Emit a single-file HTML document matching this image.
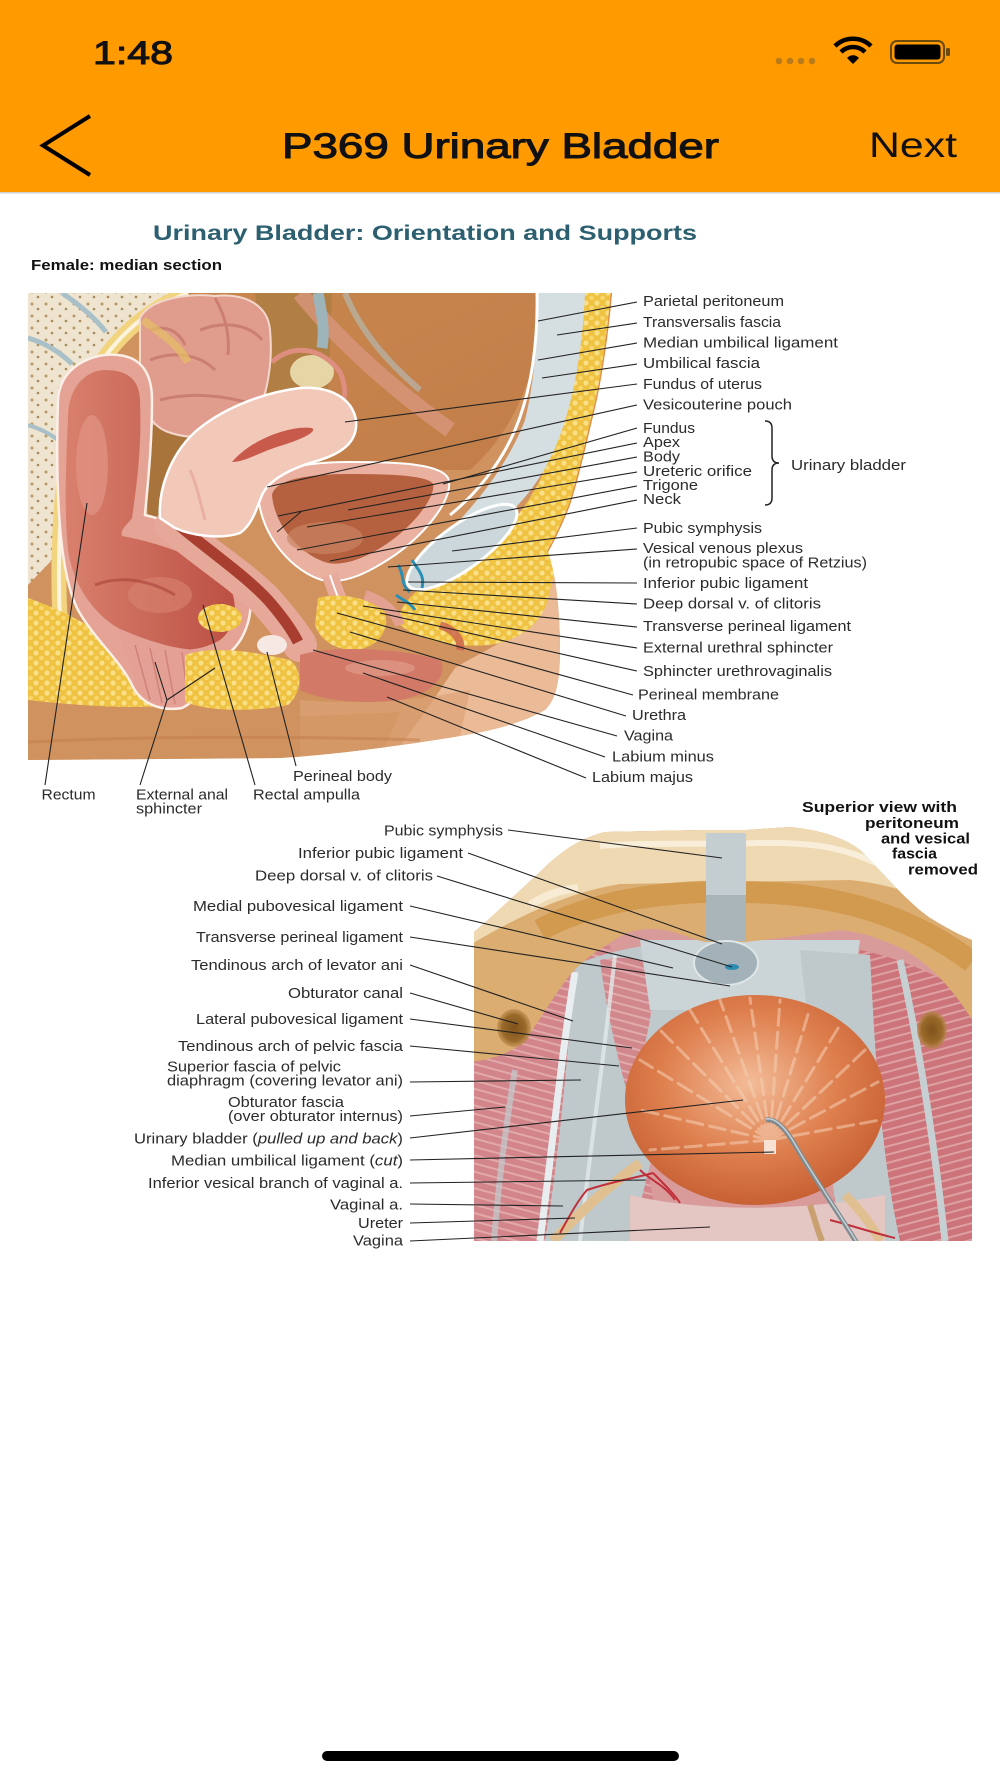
<!DOCTYPE html>
<html><head><meta charset="utf-8"><style>
html,body{margin:0;padding:0;background:#fff;width:1000px;height:1778px;overflow:hidden}
svg{display:block}
text{font-family:"Liberation Sans",Arial,sans-serif}
</style></head><body>
<svg width="1000" height="1778" viewBox="0 0 1000 1778" xmlns="http://www.w3.org/2000/svg">
<defs>
<pattern id="fat" width="11" height="10" patternUnits="userSpaceOnUse"><rect width="11" height="10" fill="#efc241"/><circle cx="3" cy="3" r="2.6" fill="#f9df86"/><circle cx="8.5" cy="8" r="2.4" fill="#f7d66e"/></pattern>
<pattern id="bone" width="14" height="12" patternUnits="userSpaceOnUse"><rect width="14" height="12" fill="#eee4d0"/><circle cx="4" cy="4" r="1.5" fill="#b89a6a"/><circle cx="10" cy="9" r="1.3" fill="#a88a5c"/></pattern>
<pattern id="musL" width="8" height="8" patternUnits="userSpaceOnUse" patternTransform="rotate(105)"><rect width="8" height="8" fill="#d2858a"/><rect width="2" height="8" fill="#e2a9ab"/></pattern>
<pattern id="musR" width="8" height="8" patternUnits="userSpaceOnUse" patternTransform="rotate(75)"><rect width="8" height="8" fill="#cc7479"/><rect width="2" height="8" fill="#dea1a3"/></pattern>
<radialGradient id="blad" cx="0.48" cy="0.42" r="0.62"><stop offset="0" stop-color="#f3bc98"/><stop offset="0.55" stop-color="#de7f4e"/><stop offset="1" stop-color="#c45c30"/></radialGradient>
<linearGradient id="lumen" x1="0" y1="0" x2="1" y2="0"><stop offset="0" stop-color="#d9806d"/><stop offset="1" stop-color="#bb5044"/></linearGradient>
<linearGradient id="cav" x1="0" y1="0" x2="1" y2="1"><stop offset="0" stop-color="#c8874f"/><stop offset="1" stop-color="#c27d48"/></linearGradient>
<radialGradient id="obt" cx="0.5" cy="0.5" r="0.5"><stop offset="0" stop-color="#7e521c"/><stop offset="0.7" stop-color="#9a6a2a"/><stop offset="1" stop-color="#b8884a" stop-opacity="0.6"/></radialGradient>
<clipPath id="clipTop"><path d="M28,293 L612,293 C608,340 600,390 592,420 C585,450 578,480 570,505 C562,525 555,540 548,552 C556,575 560,610 560,650 C560,685 555,700 545,710 C520,724 490,731 460,736 C400,746 330,755 280,758 L28,760 Z"/></clipPath>
<clipPath id="clipBot"><path d="M474,932 C500,910 520,890 540,872 C560,852 580,838 605,832 L700,830 L746,830 L790,827 C820,830 845,838 860,850 C885,875 905,900 930,918 C950,930 962,936 972,940 L972,1241 L474,1241 Z"/></clipPath>
</defs>

<rect width="1000" height="1778" fill="#fff"/>
<!-- header -->
<rect x="0" y="0" width="1000" height="192" fill="#ff9a00"/>
<rect x="0" y="192" width="1000" height="1.5" fill="#d2d2d2"/>
<text x="93" y="64" font-size="32" fill="#111" stroke="#111" stroke-width="1" textLength="80" lengthAdjust="spacingAndGlyphs">1:48</text>
<circle cx="779" cy="61" r="3.3" fill="#b97a1a"/><circle cx="790" cy="61" r="3.3" fill="#b97a1a"/><circle cx="801" cy="61" r="3.3" fill="#b97a1a"/><circle cx="812" cy="61" r="3.3" fill="#b97a1a"/>
<g fill="none" stroke="#000" stroke-width="4.5">
<path d="M835,46 A26,26 0 0 1 871,46"/>
<path d="M841,52 A17,17 0 0 1 865,52"/>
</g>
<path d="M847,58 L853,64 L859,58 A8,8 0 0 0 847,58 Z" fill="#000"/>
<rect x="891" y="41" width="53" height="22" rx="6" fill="none" stroke="#6b4a10" stroke-width="2"/>
<rect x="894.5" y="44.5" width="46" height="15" rx="3" fill="#000"/>
<rect x="946" y="48" width="4" height="8" rx="1.5" fill="#6b4a10"/>
<polyline points="90,116 43,145.5 90,175" fill="none" stroke="#000" stroke-width="4"/>
<text x="282" y="158" font-size="35" fill="#111" stroke="#111" stroke-width="1" textLength="437" lengthAdjust="spacingAndGlyphs">P369 Urinary Bladder</text>
<text x="869" y="157" font-size="35" fill="#111" textLength="88" lengthAdjust="spacingAndGlyphs">Next</text>

<!-- titles -->
<text x="153" y="240" font-size="21" font-weight="bold" fill="#2c5f70" textLength="544" lengthAdjust="spacingAndGlyphs">Urinary Bladder: Orientation and Supports</text>
<text x="31" y="270" font-size="15" font-weight="bold" fill="#111" textLength="191" lengthAdjust="spacingAndGlyphs">Female: median section</text>

<!-- TOP ILLUSTRATION -->
<g clip-path="url(#clipTop)">
<rect x="28" y="293" width="592" height="470" fill="#d0935f"/>
<path d="M170,293 L545,293 C540,370 515,430 470,470 L300,470 L250,420 L180,400 Z" fill="url(#cav)"/>
<path d="M255,293 L332,293 L328,400 L268,400 Z" fill="#a97c42" opacity="0.75"/>
<path d="M300,293 C330,330 380,380 450,430" stroke="#d8967c" stroke-width="16" fill="none" opacity="0.8"/>
<path d="M318,293 C322,315 325,330 322,348" stroke="#9eb4bb" stroke-width="11" fill="none"/>
<path d="M345,293 C360,330 385,360 420,390" stroke="#b2c0c0" stroke-width="6" fill="none" opacity="0.6"/>
<ellipse cx="312" cy="372" rx="22" ry="17" fill="#e6d6a6"/>
<path d="M272,362 C290,345 320,345 340,372 C348,390 345,405 335,415" stroke="#de8e7e" stroke-width="5" fill="none"/>
<!-- bones -->
<path d="M28,293 L178,293 C135,310 100,345 80,390 C65,430 55,490 52,560 L28,585 Z" fill="url(#bone)"/>
<path d="M28,338 C45,343 60,352 72,364" stroke="#a9c0c8" stroke-width="5" fill="none"/>
<path d="M62,293 C80,305 95,318 106,332" stroke="#a9c0c8" stroke-width="5" fill="none"/>
<path d="M28,425 C38,428 48,432 58,440" stroke="#a9c0c8" stroke-width="4" fill="none"/>
<path d="M188,293 C132,315 92,360 74,420 C60,480 57,560 60,620" stroke="#f2d47e" stroke-width="15" fill="none"/>
<path d="M188,293 C132,315 92,360 74,420 C60,480 57,560 60,620" stroke="#fbf3dc" stroke-width="4" fill="none"/>
<!-- gluteal fat -->
<path d="M28,598 C70,612 110,638 150,662 C172,676 188,690 182,704 C140,710 80,706 28,700 Z" fill="url(#fat)"/>
<!-- pouch olive -->
<path d="M145,428 L262,395 L205,432 L172,525 L148,525 Z" fill="#a9733c"/>
<!-- colon loops -->
<path d="M140,318 C150,298 190,293 215,296 C245,293 268,305 270,330 C273,360 268,395 255,418 C238,438 195,442 168,432 C148,425 138,400 140,370 Z" fill="#e09c8c" stroke="#f3d6cc" stroke-width="2"/>
<g stroke="#c4766a" stroke-width="3" fill="none" opacity="0.75">
<path d="M150,360 C175,350 200,355 215,370"/><path d="M200,330 C225,320 250,325 262,340"/><path d="M160,400 C190,392 225,395 255,405"/><path d="M215,298 C225,315 230,335 228,355"/><path d="M150,330 C165,325 178,330 185,345"/>
</g>
<path d="M143,320 C155,330 175,340 188,362" stroke="#e6c064" stroke-width="8" fill="none" opacity="0.7"/>
<!-- rectum -->
<path d="M58,400 C60,365 95,352 118,355 C140,357 152,372 152,400 C152,450 147,490 145,515 C185,525 235,545 248,585 C256,615 244,645 222,658 C210,675 200,700 182,708 C158,712 140,702 132,685 C120,660 95,640 78,610 C60,575 55,500 58,400 Z" fill="#e5a395" stroke="#fbefe8" stroke-width="2.5"/>
<path d="M68,418 C68,385 88,370 105,370 C128,370 140,380 140,402 C142,450 136,490 132,518 C126,526 120,530 122,536 C155,542 205,557 227,582 C240,602 236,628 220,640 C200,652 175,652 158,646 C138,640 118,630 103,617 C85,600 72,578 68,550 C64,510 66,460 68,418 Z" fill="url(#lumen)"/>
<ellipse cx="92" cy="465" rx="16" ry="50" fill="#e19484" opacity="0.7"/>
<ellipse cx="160" cy="595" rx="32" ry="18" fill="#d98472" opacity="0.6"/>
<path d="M95,585 C120,575 150,580 175,595" stroke="#a8423a" stroke-width="3" fill="none" opacity="0.6"/>
<path d="M118,628 C145,640 175,650 200,650 C205,670 198,698 182,706 C160,710 142,700 136,684 C130,664 122,648 118,628 Z" fill="#e4a095"/>
<g stroke="#cf8378" stroke-width="1.5" fill="none"><path d="M135,645 L150,700"/><path d="M150,648 L162,703"/><path d="M165,650 L175,704"/><path d="M182,652 L188,700"/></g>
<!-- bladder -->
<path d="M258,495 C262,470 300,462 350,462 C400,462 440,464 448,478 C455,495 430,530 395,555 C370,572 345,585 322,580 C295,572 262,540 258,495 Z" fill="#eab0a0" stroke="#fff" stroke-width="2"/>
<path d="M272,495 C275,480 305,474 350,474 C395,474 428,476 433,484 C436,496 415,525 385,545 C365,558 345,566 328,563 C305,557 275,530 272,495 Z" fill="#b5603f"/>
<ellipse cx="325" cy="538" rx="38" ry="16" fill="#c98462" opacity="0.7"/>
<!-- vagina -->
<path d="M172,525 C200,550 240,575 265,600 C280,617 292,632 300,645" stroke="#e6a899" stroke-width="34" fill="none" stroke-linecap="round"/>
<path d="M175,522 C205,548 245,575 268,600 C282,616 292,630 298,642" stroke="#a83e30" stroke-width="11" fill="none"/>
<!-- uterus -->
<path d="M160,518 C158,490 170,455 195,432 C220,410 260,393 300,388 C330,386 352,398 356,420 C358,440 345,452 320,460 C295,467 270,478 262,495 C256,510 252,525 240,533 C220,540 190,535 175,528 Z" fill="#f2c8b9" stroke="#fff" stroke-width="2.5"/>
<path d="M232,462 C250,440 290,425 312,428 C318,432 300,440 280,446 C260,452 245,462 232,462 Z" fill="#c85a4c"/>
<path d="M190,470 C195,480 200,500 205,520" stroke="#e5a597" stroke-width="3" fill="none" opacity="0.7"/>
<!-- urethra -->
<path d="M330,575 C338,600 348,620 356,645" stroke="#e8aa9a" stroke-width="16" fill="none"/>
<path d="M330,575 C338,600 348,620 356,645" stroke="#fff" stroke-width="2" fill="none"/>
<!-- peach skin lower right -->
<path d="M548,552 C556,575 560,610 560,650 C560,685 555,700 545,710 C520,724 490,731 460,736 L400,746 C420,720 440,690 455,668 C480,652 525,635 548,600 Z" fill="#ebbb97"/>
<path d="M300,700 C360,705 420,700 470,690 L460,736 C400,746 330,755 300,756 Z" fill="#dda277" opacity="0.7"/>
<!-- right wall -->
<path d="M583,293 L615,293 L600,420 L580,490 L560,545 L548,600 C540,625 520,640 490,645 C450,648 420,640 400,625 C395,605 420,585 450,570 C490,550 520,520 540,480 C555,440 565,400 570,360 C575,330 580,310 583,293 Z" fill="url(#fat)"/>
<path d="M537,293 L585,293 C583,340 576,390 562,430 C545,480 515,515 480,535 L450,530 C480,500 510,460 525,420 C535,380 538,330 537,293 Z" fill="#d5dee0"/>
<path d="M537,293 C538,340 532,390 515,430 C500,465 475,495 450,515" stroke="#fff" stroke-width="3" fill="none"/>
<path d="M612,293 C608,340 600,390 592,420 C585,450 578,480 570,505 C562,525 555,540 548,552" stroke="#e08a4a" stroke-width="2.5" fill="none"/>
<ellipse cx="462" cy="547" rx="66" ry="22" transform="rotate(-36 462 547)" fill="#cbd7da" stroke="#fff" stroke-width="3"/>
<!-- mons & fat -->
<path d="M318,598 C340,592 370,598 385,612 C390,630 378,648 355,650 C335,650 320,640 315,625 Z" fill="url(#fat)"/>
<g stroke="#2a8fb5" stroke-width="3" fill="none"><path d="M398,565 C405,575 400,585 410,592"/><path d="M412,560 C418,570 425,575 422,588"/><path d="M396,595 C402,600 410,602 415,610"/></g>
<path d="M365,595 C380,600 395,610 400,625" stroke="#e3a192" stroke-width="10" fill="none"/>
<!-- labia -->
<path d="M300,655 C330,645 400,648 440,660 C450,675 430,695 400,700 C360,705 320,700 300,690 Z" fill="#d27968"/>
<ellipse cx="380" cy="668" rx="35" ry="8" fill="#e09a88" opacity="0.7"/>
<path d="M440,625 C455,630 462,640 460,650" stroke="#c9604f" stroke-width="8" fill="none" opacity="0.8"/>
<!-- perineal fat/body -->
<path d="M185,655 C215,645 255,652 290,660 C305,672 300,695 288,705 C255,712 210,712 185,702 Z" fill="url(#fat)"/>
<ellipse cx="272" cy="645" rx="15" ry="10" fill="#f6e8e2"/>
<ellipse cx="220" cy="618" rx="22" ry="14" fill="url(#fat)"/>
<!-- skin bottom -->
<path d="M28,712 C150,720 300,718 400,712 L380,760 L28,760 Z" fill="#d0925f" opacity="0.6"/>
<path d="M28,742 C150,736 300,736 420,740" stroke="#c07c4a" stroke-width="3" fill="none" opacity="0.5"/>
</g>

<!-- top label lines -->
<g stroke="#222" stroke-width="1.1" fill="none">
<line x1="637" y1="302" x2="538" y2="321"/>
<line x1="637" y1="323" x2="557" y2="335"/>
<line x1="637" y1="343" x2="538" y2="360"/>
<line x1="637" y1="364" x2="542" y2="378"/>
<line x1="637" y1="384" x2="345" y2="422"/>
<line x1="637" y1="405" x2="267" y2="487"/>
<line x1="637" y1="428" x2="443" y2="484"/>
<line x1="637" y1="443" x2="278" y2="516"/>
<line x1="637" y1="457" x2="348" y2="510"/>
<line x1="637" y1="472" x2="307" y2="527"/>
<line x1="637" y1="486" x2="297" y2="550"/>
<line x1="637" y1="500" x2="330" y2="561"/>
<line x1="637" y1="528" x2="452" y2="551"/>
<line x1="637" y1="549" x2="388" y2="567"/>
<line x1="637" y1="583" x2="408" y2="582"/>
<line x1="637" y1="604" x2="403" y2="590"/>
<line x1="637" y1="627" x2="397" y2="602"/>
<line x1="637" y1="648" x2="363" y2="606"/>
<line x1="637" y1="671" x2="380" y2="613"/>
<line x1="633" y1="695" x2="337" y2="613"/>
<line x1="626" y1="716" x2="350" y2="632"/>
<line x1="617" y1="736" x2="313" y2="650"/>
<line x1="605" y1="757" x2="363" y2="673"/>
<line x1="586" y1="778" x2="387" y2="697"/>
<line x1="277" y1="532" x2="302" y2="511"/>
<line x1="45" y1="785" x2="87" y2="503"/>
<polyline points="140,785 167,700 155,662"/>
<line x1="167" y1="700" x2="215" y2="668"/>
<line x1="255" y1="785" x2="203" y2="605"/>
<line x1="296" y1="766" x2="267" y2="652"/>
<path d="M765,421 Q772,421 772,428 L772,456 Q772,463 779,463 Q772,463 772,470 L772,498 Q772,505 765,505" stroke-width="1.5"/>
</g>

<!-- top labels -->
<g font-size="15" fill="#2b2b2b">
<text x="643" y="306" textLength="141" lengthAdjust="spacingAndGlyphs">Parietal peritoneum</text>
<text x="643" y="327" textLength="138" lengthAdjust="spacingAndGlyphs">Transversalis fascia</text>
<text x="643" y="347.5" textLength="195" lengthAdjust="spacingAndGlyphs">Median umbilical ligament</text>
<text x="643" y="368" textLength="117" lengthAdjust="spacingAndGlyphs">Umbilical fascia</text>
<text x="643" y="389" textLength="119" lengthAdjust="spacingAndGlyphs">Fundus of uterus</text>
<text x="643" y="409.5" textLength="149" lengthAdjust="spacingAndGlyphs">Vesicouterine pouch</text>
<text x="643" y="433" textLength="52" lengthAdjust="spacingAndGlyphs">Fundus</text>
<text x="643" y="447" textLength="37" lengthAdjust="spacingAndGlyphs">Apex</text>
<text x="643" y="461.5" textLength="37" lengthAdjust="spacingAndGlyphs">Body</text>
<text x="643" y="476" textLength="109" lengthAdjust="spacingAndGlyphs">Ureteric orifice</text>
<text x="643" y="490" textLength="55" lengthAdjust="spacingAndGlyphs">Trigone</text>
<text x="643" y="504" textLength="38" lengthAdjust="spacingAndGlyphs">Neck</text>
<text x="791" y="470" textLength="115" lengthAdjust="spacingAndGlyphs">Urinary bladder</text>
<text x="643" y="533" textLength="119" lengthAdjust="spacingAndGlyphs">Pubic symphysis</text>
<text x="643" y="553" textLength="160" lengthAdjust="spacingAndGlyphs">Vesical venous plexus</text>
<text x="643" y="567.5" textLength="224" lengthAdjust="spacingAndGlyphs">(in retropubic space of Retzius)</text>
<text x="643" y="588" textLength="165" lengthAdjust="spacingAndGlyphs">Inferior pubic ligament</text>
<text x="643" y="608.5" textLength="178" lengthAdjust="spacingAndGlyphs">Deep dorsal v. of clitoris</text>
<text x="643" y="631" textLength="208" lengthAdjust="spacingAndGlyphs">Transverse perineal ligament</text>
<text x="643" y="652.5" textLength="190" lengthAdjust="spacingAndGlyphs">External urethral sphincter</text>
<text x="643" y="676" textLength="189" lengthAdjust="spacingAndGlyphs">Sphincter urethrovaginalis</text>
<text x="638" y="699.5" textLength="141" lengthAdjust="spacingAndGlyphs">Perineal membrane</text>
<text x="632" y="720" textLength="54" lengthAdjust="spacingAndGlyphs">Urethra</text>
<text x="624" y="740.5" textLength="49" lengthAdjust="spacingAndGlyphs">Vagina</text>
<text x="612" y="761.5" textLength="102" lengthAdjust="spacingAndGlyphs">Labium minus</text>
<text x="592" y="782" textLength="101" lengthAdjust="spacingAndGlyphs">Labium majus</text>
<text x="41.5" y="799.5" textLength="54" lengthAdjust="spacingAndGlyphs">Rectum</text>
<text x="136" y="799.5" textLength="92" lengthAdjust="spacingAndGlyphs">External anal</text>
<text x="136" y="813.5" textLength="66" lengthAdjust="spacingAndGlyphs">sphincter</text>
<text x="253" y="799.5" textLength="107" lengthAdjust="spacingAndGlyphs">Rectal ampulla</text>
<text x="293" y="781" textLength="99" lengthAdjust="spacingAndGlyphs">Perineal body</text>
</g>

<!-- BOTTOM ILLUSTRATION -->
<g clip-path="url(#clipBot)">
<rect x="470" y="820" width="510" height="425" fill="#d99a9a"/>
<path d="M470,1000 C520,975 570,955 610,945 L660,1241 L470,1241 Z" fill="url(#musL)"/>
<path d="M975,1000 C940,975 900,958 860,950 L830,1241 L975,1241 Z" fill="url(#musR)"/>
<path d="M575,965 C605,952 640,945 660,945 L700,945 C700,980 690,1050 665,1110 C650,1160 640,1210 630,1241 L545,1241 C560,1150 568,1050 575,965 Z" fill="#bfc9cc"/>
<path d="M600,960 C625,955 645,958 655,972 C652,1030 640,1065 628,1095 C615,1050 605,1000 600,960 Z" fill="url(#musL)" opacity="0.95"/>
<path d="M640,940 L860,940 L850,1010 L650,1010 Z" fill="#cbd4d6"/>
<path d="M800,950 L870,955 C875,1050 880,1150 900,1241 L840,1241 C830,1150 810,1050 800,950 Z" fill="#bfc9cc"/>
<path d="M900,960 C920,1050 935,1150 945,1241" stroke="#c6d0d3" stroke-width="7" fill="none"/>
<path d="M575,972 C562,1050 552,1150 540,1241" stroke="#e8eef0" stroke-width="7" fill="none"/>
<path d="M615,955 C605,1050 590,1150 580,1241" stroke="#e2e8ea" stroke-width="4" fill="none" opacity="0.8"/>
<path d="M515,1070 C505,1130 498,1190 494,1241" stroke="#c2ccd0" stroke-width="6" fill="none" opacity="0.7"/>
<!-- bone arch -->
<path d="M470,820 L975,820 L975,1025 C955,990 930,965 905,950 C880,938 860,932 840,930 C800,936 760,940 745,942 L705,942 C680,936 660,922 627,933 C605,945 585,958 570,975 C550,1000 535,1030 520,1045 C505,1055 490,1060 470,1062 Z" fill="#dbad70"/>
<path d="M470,820 L975,820 L975,925 C940,902 900,885 850,880 L620,884 C570,892 520,915 470,945 Z" fill="#efd9b2"/>
<path d="M540,930 C600,897 680,890 740,892 C820,892 900,908 972,962" stroke="#cf9547" stroke-width="22" fill="none" opacity="0.8"/>
<path d="M600,846 C650,842 700,845 760,843 C820,842 850,850 880,865" stroke="#fbf2e2" stroke-width="6" fill="none" opacity="0.8"/>
<path d="M530,905 C545,895 560,890 578,888" stroke="#fbf2e2" stroke-width="8" fill="none" opacity="0.7"/>
<ellipse cx="514" cy="1028" rx="17" ry="19" fill="url(#obt)"/>
<ellipse cx="932" cy="1030" rx="15" ry="19" fill="url(#obt)"/>
<rect x="706" y="833" width="40" height="108" fill="#c4cdd0"/>
<rect x="706" y="895" width="40" height="46" fill="#a9b5b9"/>
<ellipse cx="726" cy="963" rx="32" ry="22" fill="#a3b2b8" stroke="#dfe6e8" stroke-width="2"/>
<ellipse cx="732" cy="967" rx="7" ry="3" fill="#2d8bb0"/>
<!-- bottom center -->
<path d="M630,1195 C700,1212 800,1212 885,1195 L885,1241 L630,1241 Z" fill="#e4c6c2"/>
<!-- bladder -->
<ellipse cx="755" cy="1100" rx="130" ry="105" fill="url(#blad)"/>
<g stroke="#f6d0b4" stroke-width="3" fill="none" opacity="0.55" stroke-linecap="round" stroke-dasharray="16 7">
<line x1="770" y1="1140" x2="640" y2="1060"/><line x1="770" y1="1140" x2="660" y2="1030"/><line x1="770" y1="1140" x2="690" y2="1010"/><line x1="770" y1="1140" x2="720" y2="1000"/><line x1="770" y1="1140" x2="750" y2="998"/><line x1="770" y1="1140" x2="780" y2="1000"/><line x1="770" y1="1140" x2="810" y2="1008"/><line x1="770" y1="1140" x2="840" y2="1025"/><line x1="770" y1="1140" x2="865" y2="1050"/><line x1="770" y1="1140" x2="878" y2="1082"/><line x1="770" y1="1140" x2="880" y2="1120"/><line x1="770" y1="1140" x2="640" y2="1110"/><line x1="770" y1="1140" x2="650" y2="1150"/>
</g>
<rect x="764" y="1140" width="12" height="14" fill="#f7e2d4"/>
<!-- ureters and vessels -->
<path d="M640,1163 C610,1185 580,1212 553,1241" stroke="#e0c090" stroke-width="10" fill="none"/>
<path d="M845,1195 C860,1210 872,1225 880,1241" stroke="#e0c090" stroke-width="9" fill="none"/>
<path d="M810,1205 C815,1220 818,1232 822,1241" stroke="#c9a070" stroke-width="6" fill="none"/>
<g stroke="#c0303a" stroke-width="2" fill="none"><path d="M560,1233 C570,1215 578,1200 587,1190 C610,1182 635,1178 653,1173"/><path d="M653,1173 C665,1185 675,1195 680,1203"/><path d="M640,1170 C650,1180 665,1185 675,1200"/><path d="M830,1220 C850,1225 870,1232 895,1238"/></g>
<!-- probe -->
<path d="M766,1120 C775,1118 785,1128 795,1145 C815,1180 840,1215 858,1245" stroke="#7f8b90" stroke-width="5" fill="none"/>
<path d="M766,1119 C775,1117 785,1127 795,1144 C815,1179 840,1214 858,1244" stroke="#c8d0d4" stroke-width="1.5" fill="none"/>
</g>

<!-- bottom label lines -->
<g stroke="#222" stroke-width="1.1" fill="none">
<line x1="508" y1="830" x2="722" y2="858"/>
<line x1="468" y1="853" x2="722" y2="944"/>
<line x1="437" y1="876" x2="732" y2="967"/>
<line x1="410" y1="906" x2="673" y2="968"/>
<line x1="410" y1="937" x2="730" y2="986"/>
<line x1="410" y1="965" x2="573" y2="1021"/>
<line x1="410" y1="993" x2="518" y2="1024"/>
<line x1="410" y1="1019" x2="632" y2="1048"/>
<line x1="410" y1="1046" x2="619" y2="1066"/>
<line x1="410" y1="1082" x2="581" y2="1080"/>
<line x1="410" y1="1116" x2="505" y2="1107"/>
<line x1="410" y1="1138" x2="743" y2="1100"/>
<line x1="410" y1="1160" x2="774" y2="1152"/>
<line x1="410" y1="1183" x2="646" y2="1180"/>
<line x1="410" y1="1204" x2="563" y2="1206"/>
<line x1="410" y1="1223" x2="575" y2="1218"/>
<line x1="410" y1="1241" x2="710" y2="1227"/>
</g>

<g font-size="14.5" fill="#2b2b2b">
<text x="384" y="835.5" textLength="119" lengthAdjust="spacingAndGlyphs">Pubic symphysis</text>
<text x="298" y="858" textLength="165" lengthAdjust="spacingAndGlyphs">Inferior pubic ligament</text>
<text x="255" y="880.5" textLength="178" lengthAdjust="spacingAndGlyphs">Deep dorsal v. of clitoris</text>
<text x="193" y="911" textLength="210" lengthAdjust="spacingAndGlyphs">Medial pubovesical ligament</text>
<text x="196" y="942" textLength="207" lengthAdjust="spacingAndGlyphs">Transverse perineal ligament</text>
<text x="191" y="970" textLength="212" lengthAdjust="spacingAndGlyphs">Tendinous arch of levator ani</text>
<text x="288" y="998" textLength="115" lengthAdjust="spacingAndGlyphs">Obturator canal</text>
<text x="196" y="1024" textLength="207" lengthAdjust="spacingAndGlyphs">Lateral pubovesical ligament</text>
<text x="178" y="1051" textLength="225" lengthAdjust="spacingAndGlyphs">Tendinous arch of pelvic fascia</text>
<text x="167" y="1071.5" textLength="174" lengthAdjust="spacingAndGlyphs">Superior fascia of pelvic</text>
<text x="167" y="1085.5" textLength="236" lengthAdjust="spacingAndGlyphs">diaphragm (covering levator ani)</text>
<text x="228" y="1107" textLength="116" lengthAdjust="spacingAndGlyphs">Obturator fascia</text>
<text x="228" y="1121" textLength="175" lengthAdjust="spacingAndGlyphs">(over obturator internus)</text>
<text x="134" y="1143.5" textLength="269" lengthAdjust="spacingAndGlyphs">Urinary bladder (<tspan font-style="italic">pulled up and back</tspan>)</text>
<text x="171" y="1165.5" textLength="232" lengthAdjust="spacingAndGlyphs">Median umbilical ligament (<tspan font-style="italic">cut</tspan>)</text>
<text x="148" y="1188" textLength="255" lengthAdjust="spacingAndGlyphs">Inferior vesical branch of vaginal a.</text>
<text x="330" y="1209.5" textLength="73" lengthAdjust="spacingAndGlyphs">Vaginal a.</text>
<text x="358" y="1228" textLength="45" lengthAdjust="spacingAndGlyphs">Ureter</text>
<text x="353" y="1245.5" textLength="50" lengthAdjust="spacingAndGlyphs">Vagina</text>
</g>

<g font-size="15" font-weight="bold" fill="#111">
<text x="802" y="812" textLength="155" lengthAdjust="spacingAndGlyphs">Superior view with</text>
<text x="865" y="828" textLength="94" lengthAdjust="spacingAndGlyphs">peritoneum</text>
<text x="881" y="843.5" textLength="89" lengthAdjust="spacingAndGlyphs">and vesical</text>
<text x="892" y="858.5" textLength="45" lengthAdjust="spacingAndGlyphs">fascia</text>
<text x="908" y="874.5" textLength="70" lengthAdjust="spacingAndGlyphs">removed</text>
</g>

<!-- home indicator -->
<rect x="322" y="1751" width="357" height="10" rx="5" fill="#000"/>
</svg>
</body></html>
